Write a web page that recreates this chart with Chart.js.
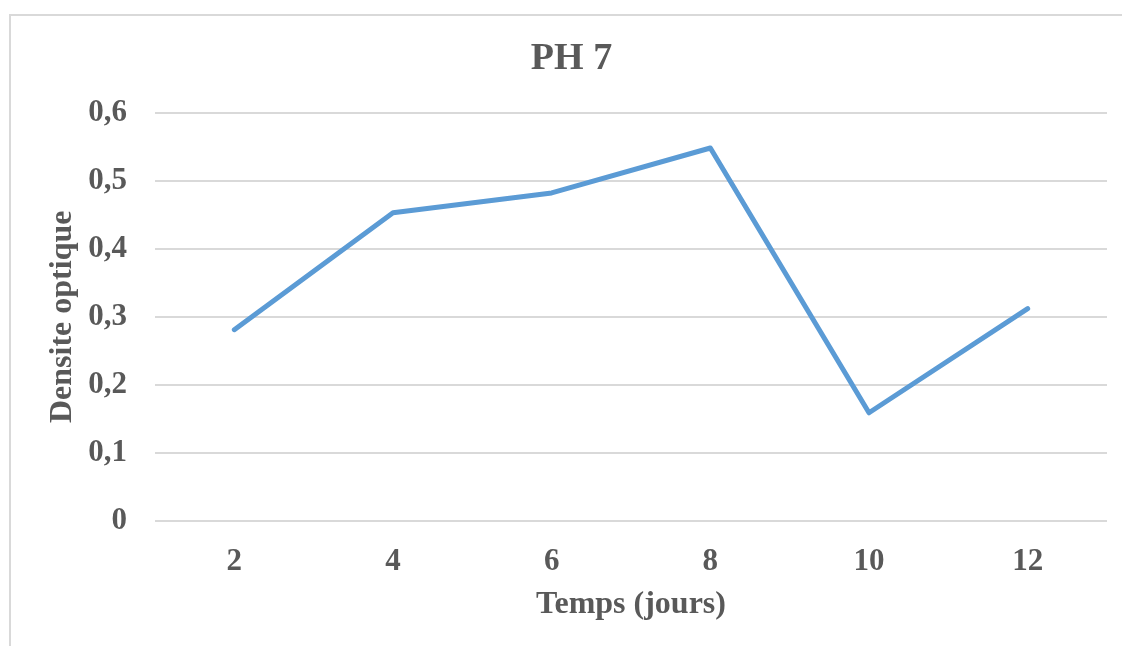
<!DOCTYPE html>
<html>
<head>
<meta charset="utf-8">
<script src="https://cdn.jsdelivr.net/npm/chart.js@4/dist/chart.umd.min.js"></script>
<style>
  html, body { margin: 0; padding: 0; background: #fff; overflow: hidden; }
  #wrap { position: relative; width: 1122px; height: 646px; }
  #frame { position: absolute; left: 9px; top: 14px; width: 1120px; height: 700px;
           border: 2px solid #d9d9d9; box-sizing: border-box; pointer-events: none; }
</style>
</head>
<body>
<div id="wrap">
  <canvas id="chart" width="1122" height="646"></canvas>
  <div id="frame"></div>
</div>
<script>
// PH 7 - optical density over time

const days = ["2", "4", "6", "8", "10", "12"];
const density = [0.281, 0.453, 0.482, 0.548, 0.159, 0.312];
const yTicks = [0, 0.1, 0.2, 0.3, 0.4, 0.5, 0.6];

const grey = "#595959";
const serif = "'Liberation Serif', 'Times New Roman', serif";

const ctx = document.getElementById("chart").getContext("2d");
new Chart(ctx, {
  type: "line",
  data: {
    labels: days,
    datasets: [{
      label: "PH 7",
      data: density,
      borderColor: "#5b9bd5",
      borderWidth: 5,
      pointRadius: 0,
      borderCapStyle: "round",
      borderJoinStyle: "round",
      fill: false,
      tension: 0
    }]
  },
  options: {
    responsive: false,
    animation: false,
    layout: { padding: { left: 36, right: 15, top: 0, bottom: 0 } },
    plugins: {
      legend: { display: false },
      tooltip: { enabled: false },
      title: {
        display: true,
        text: "PH 7",
        color: grey,
        font: { family: serif, size: 38, weight: "bold" },
        padding: { top: 36, bottom: 31 }
      }
    },
    scales: {
      x: {
        offset: true,
        grid: { display: false, drawTicks: false },
        border: { display: false },
        ticks: { color: grey, padding: 22, font: { family: serif, size: 31, weight: "bold" } },
        title: {
          display: true,
          text: "Temps (jours)",
          color: grey,
          font: { family: serif, size: 32, weight: "bold" },
          padding: { top: 0, bottom: 22 }
        },
        afterFit: (scale) => { scale.height = 125; }
      },
      y: {
        min: 0,
        max: 0.6,
        afterBuildTicks: (scale) => { scale.ticks = yTicks.map((v) => ({ value: v })); },
        grid: { color: "#d9d9d9", lineWidth: 2, drawTicks: false },
        border: { display: false },
        ticks: {
          color: grey,
          padding: 28,
          font: { family: serif, size: 31, weight: "bold" },
          callback: (v) => String(Math.round(v * 10) / 10).replace(".", ",")
        },
        title: {
          display: true,
          text: "Densite optique",
          color: grey,
          font: { family: serif, size: 32, weight: "bold" },
          padding: { top: 8 }
        },
        afterFit: (scale) => { scale.width = 119; }
      }
    }
  }
});
</script>
</body>
</html>
